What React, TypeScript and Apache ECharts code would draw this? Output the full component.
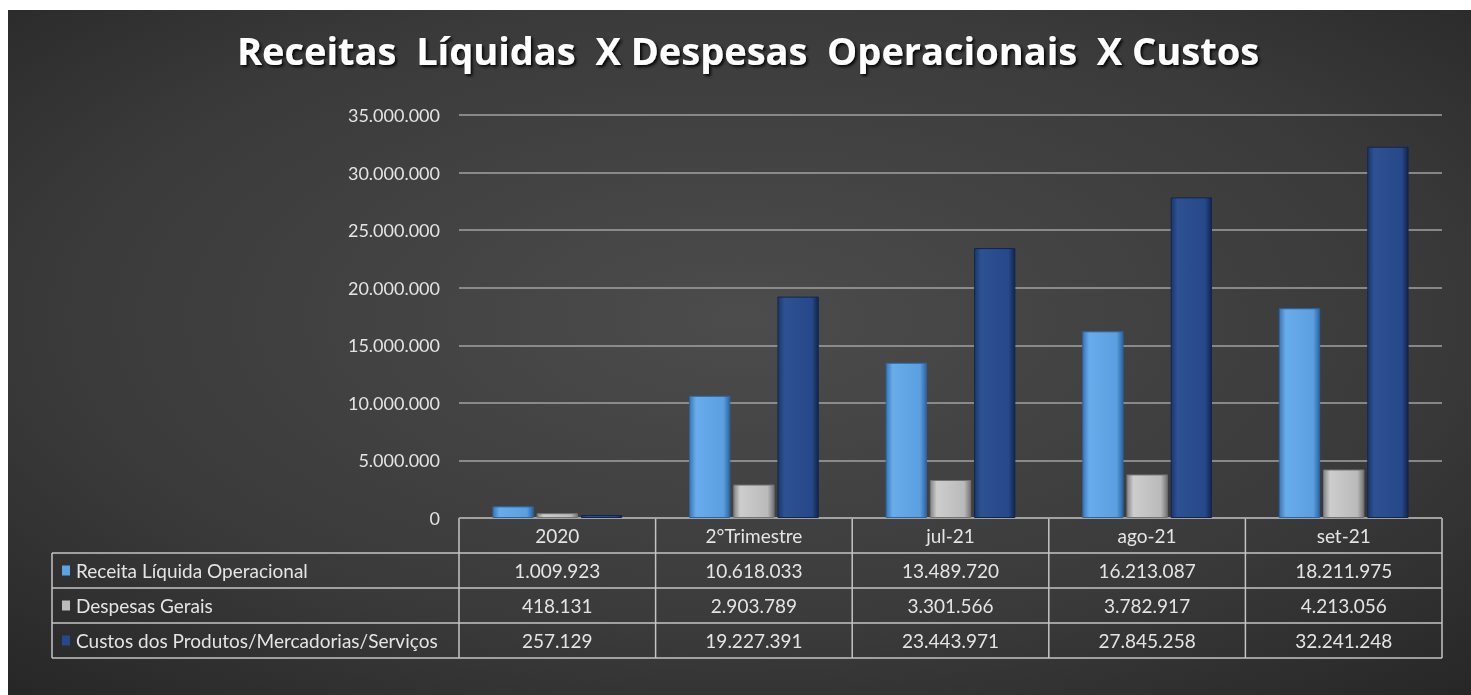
import React, { useEffect, useRef } from "react";
import * as echarts from "echarts";

const categories = ["2020", "2°Trimestre", "jul-21", "ago-21", "set-21"];
const seriesNames = [
  "Receita Líquida Operacional",
  "Despesas Gerais",
  "Custos dos Produtos/Mercadorias/Serviços",
];
const receita = [1009923, 10618033, 13489720, 16213087, 18211975];
const despesas = [418131, 2903789, 3301566, 3782917, 4213056];
const custos = [257129, 19227391, 23443971, 27845258, 32241248];
const yMin = 0;
const yMax = 35000000;
const yInterval = 5000000;
const titleText = "Receitas  Líquidas  X Despesas  Operacionais  X Custos";

const W = 1463;
const H = 685;
const GRID_LEFT = 451;
const GRID_RIGHT = 29;
const GRID_TOP = 105;
const GRID_BOTTOM = 177;
const ROW_H = 35;
const TABLE_LEFT = 44;
const FONT = "Lato, 'Open Sans', sans-serif";
const TITLE_FONT = "'Open Sans', Lato, sans-serif";
const TEXT = "#e4e4e4";
const LINE = "#c4c4c4";
const FS = 19;

const fmt = (n: number) => String(Math.round(n)).replace(/\B(?=(\d{3})+(?!\d))/g, ".");

const seriesValues = [receita, despesas, custos];
const mainColors = ["#5ea2e4", "#bcbcbc", "#27488a"];
const gradStops = [
  ["#3a76b4", "#68acec", "#5c9fe0", "#2c65a0"],
  ["#858585", "#cdcdcd", "#bababa", "#747474"],
  ["#1b376a", "#2d5192", "#27488a", "#12264c"],
];

function grad(i: number) {
  const s = gradStops[i];
  return new echarts.graphic.LinearGradient(0, 0, 1, 0, [
    { offset: 0, color: s[0] },
    { offset: 0.16, color: s[1] },
    { offset: 0.84, color: s[2] },
    { offset: 1, color: s[3] },
  ]);
}

export default function App() {
  const ref = useRef<HTMLDivElement>(null);
  useEffect(() => {
    if (!ref.current) return;
    const chart = echarts.init(ref.current, undefined, { renderer: "svg" });

    const plotRight = W - GRID_RIGHT;
    const axisY = H - GRID_BOTTOM;
    const catW = (plotRight - GRID_LEFT) / categories.length;
    const tableBottom = axisY + ROW_H * 4;

    const graphics: any[] = [];
    graphics.push({
      type: "rect",
      z: -10,
      silent: true,
      shape: { x: 0, y: 0, width: W, height: H },
      style: {
        fill: new echarts.graphic.RadialGradient(0.5, 0.45, 0.85, [
          { offset: 0, color: "#4c4c4c" },
          { offset: 0.55, color: "#3a3a3a" },
          { offset: 1, color: "#1f1f1f" },
        ]),
      },
    });
    graphics.push({
      type: "text",
      x: 740,
      y: 40,
      style: {
        text: titleText,
        fill: "#ffffff",
        font: `bold 38px ${TITLE_FONT}`,
        textAlign: "center",
        textVerticalAlign: "middle",
        textShadowColor: "rgba(0,0,0,0.9)",
        textShadowBlur: 3,
        textShadowOffsetX: 2,
        textShadowOffsetY: 2,
      } as any,
    });
    graphics.push({
      type: "line",
      shape: { x1: GRID_LEFT, y1: axisY, x2: plotRight, y2: axisY },
      style: { stroke: LINE, lineWidth: 1.5 },
    });
    for (let r = 1; r <= 4; r++) {
      const y = axisY + ROW_H * r;
      graphics.push({
        type: "line",
        shape: { x1: TABLE_LEFT, y1: y, x2: plotRight, y2: y },
        style: { stroke: LINE, lineWidth: 1.5 },
      });
    }
    graphics.push({
      type: "line",
      shape: { x1: TABLE_LEFT, y1: axisY + ROW_H, x2: TABLE_LEFT, y2: tableBottom },
      style: { stroke: LINE, lineWidth: 1.5 },
    });
    for (let c = 0; c <= categories.length; c++) {
      const x = GRID_LEFT + catW * c;
      graphics.push({
        type: "line",
        shape: { x1: x, y1: axisY, x2: x, y2: tableBottom },
        style: { stroke: LINE, lineWidth: 1.5 },
      });
    }
    seriesNames.forEach((name, i) => {
      const cy = axisY + ROW_H * (i + 1) + ROW_H / 2;
      graphics.push({
        type: "rect",
        shape: { x: TABLE_LEFT + 10, y: cy - 5, width: 8, height: 10 },
        style: { fill: mainColors[i] },
      });
      graphics.push({
        type: "text",
        x: TABLE_LEFT + 24,
        y: cy,
        style: {
          text: name,
          fill: TEXT,
          font: `${FS}px ${FONT}`,
          textVerticalAlign: "middle",
        } as any,
      });
    });

    const valueAxes = seriesValues.map((vals, i) => ({
      type: "category",
      data: categories,
      gridIndex: 0,
      position: "bottom",
      offset: ROW_H * (i + 1),
      axisLine: { show: false },
      axisTick: { show: false },
      splitLine: { show: false },
      axisLabel: {
        color: TEXT,
        fontFamily: FONT,
        fontSize: FS,
        margin: 8,
        formatter: (_v: string, idx: number) => fmt(vals[idx]),
      },
    }));

    chart.setOption({
      animation: false,
      grid: {
        left: GRID_LEFT,
        right: GRID_RIGHT,
        top: GRID_TOP,
        bottom: GRID_BOTTOM,
        containLabel: false,
      },
      xAxis: [
        {
          type: "category",
          data: categories,
          position: "bottom",
          axisLine: { show: false },
          axisTick: { show: false },
          axisLabel: { color: TEXT, fontFamily: FONT, fontSize: FS, margin: 8 },
        },
        ...valueAxes,
      ],
      yAxis: {
        type: "value",
        min: yMin,
        max: yMax,
        interval: yInterval,
        axisLine: { show: false },
        axisTick: { show: false },
        axisLabel: {
          color: TEXT,
          fontFamily: FONT,
          fontSize: 18,
          margin: 19,
          formatter: (v: number) => fmt(v),
        },
        splitLine: { lineStyle: { color: "#a2a2a2", width: 1.5 } },
      },
      series: seriesValues.map((vals, i) => ({
        name: seriesNames[i],
        type: "bar",
        xAxisIndex: 0,
        data: vals,
        barGap: "7%",
        barCategoryGap: "34%",
        itemStyle: {
          color: grad(i),
          borderColor: gradStops[i][3],
          borderWidth: 1,
        },
      })),
      graphic: graphics,
    });
    return () => chart.dispose();
  }, []);
  return (
    <div
      ref={ref}
      style={{ position: "fixed", left: 8, top: 10, width: W, height: H }}
    />
  );
}
